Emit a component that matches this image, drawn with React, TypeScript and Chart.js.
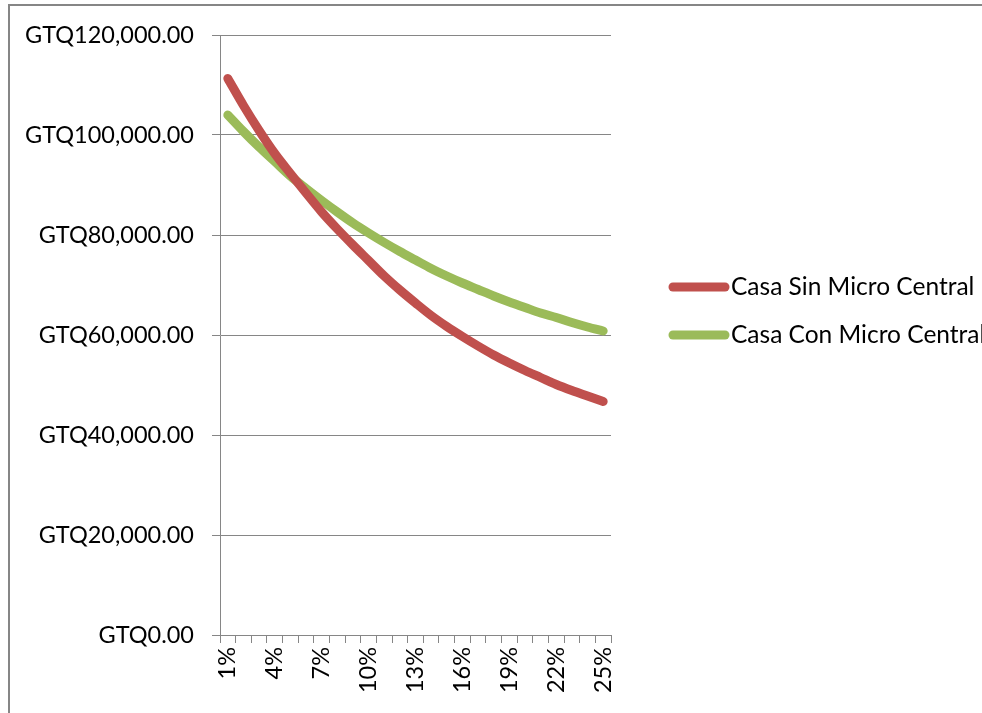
import React, { useEffect, useRef } from "react";
import { Chart, registerables } from "chart.js";

Chart.register(...registerables);

const categories = [
  "1%", "2%", "3%", "4%", "5%", "6%", "7%", "8%", "9%", "10%", "11%", "12%", "13%",
  "14%", "15%", "16%", "17%", "18%", "19%", "20%", "21%", "22%", "23%", "24%", "25%",
];

const seriesNames = ["Casa Sin Micro Central", "Casa Con Micro Central"];

const casaSinMicroCentral = [
  111300, 105900, 100900, 96300, 92300, 88400, 84600, 81200, 78000, 74900, 71800, 69000,
  66400, 63900, 61700, 59700, 57800, 56000, 54400, 52900, 51500, 50100, 48900, 47800, 46700,
];

const casaConMicroCentral = [
  104000, 100700, 97600, 94700, 91800, 89300, 86900, 84600, 82400, 80400, 78500, 76700,
  75000, 73300, 71800, 70400, 69100, 67800, 66600, 65500, 64400, 63500, 62500, 61600, 60800,
];

const yMin = 0;
const yMax = 120000;
const yStep = 20000;

const RED = "#C0504D";
const GREEN = "#9BBB59";
const GRID = "#868686";
const FONT_FAMILY = "Lato, 'Open Sans', sans-serif";
const FONT_SIZE = 23.5;
const LEGEND_FONT_SIZE = 24.5;

const legendPlugin = {
  id: "customLegend",
  afterDraw(chart: any) {
    const ctx = chart.ctx;
    const items = chart.data.datasets;
    const startX = 669;
    const lineLen = 60;
    const ys = [287, 335];
    ctx.save();
    items.forEach((ds: any, i: number) => {
      const y = ys[i];
      ctx.strokeStyle = ds.borderColor;
      ctx.lineWidth = ds.borderWidth;
      ctx.lineCap = "round";
      ctx.beginPath();
      ctx.moveTo(startX + 4, y);
      ctx.lineTo(startX + lineLen - 4, y);
      ctx.stroke();
      ctx.fillStyle = "#000";
      ctx.font = `${LEGEND_FONT_SIZE}px ${FONT_FAMILY}`;
      ctx.textBaseline = "middle";
      ctx.textAlign = "left";
      ctx.fillText(ds.label, startX + lineLen + 2, y);
    });
    ctx.restore();
  },
};

export default function App() {
  const canvasRef = useRef<HTMLCanvasElement | null>(null);

  useEffect(() => {
    if (!canvasRef.current) return;
    const chart = new Chart(canvasRef.current, {
      type: "line",
      data: {
        labels: categories,
        datasets: [
          {
            label: seriesNames[0],
            data: casaSinMicroCentral,
            borderColor: RED,
            backgroundColor: RED,
            borderWidth: 9,
            pointRadius: 0,
            cubicInterpolationMode: "monotone",
            borderCapStyle: "round",
            borderJoinStyle: "round",
            fill: false,
          },
          {
            label: seriesNames[1],
            data: casaConMicroCentral,
            borderColor: GREEN,
            backgroundColor: GREEN,
            borderWidth: 9,
            pointRadius: 0,
            cubicInterpolationMode: "monotone",
            borderCapStyle: "round",
            borderJoinStyle: "round",
            fill: false,
          },
        ],
      },
      options: {
        responsive: false,
        animation: false,
        layout: { padding: { top: 35, right: 371, bottom: 0, left: 0 } },
        plugins: {
          legend: { display: false },
          tooltip: { enabled: false },
        },
        scales: {
          x: {
            type: "category",
            offset: true,
            grid: {
              offset: true,
              drawOnChartArea: false,
              drawTicks: true,
              tickLength: 8,
              color: GRID,
              lineWidth: 1,
            },
            border: { display: true, color: GRID, width: 1 },
            ticks: {
              autoSkip: false,
              maxRotation: 90,
              minRotation: 90,
              padding: 4,
              color: "#000",
              font: { family: FONT_FAMILY, size: FONT_SIZE },
              callback: (_v: any, i: number) => (i % 3 === 0 ? categories[i] : ""),
            },
            afterFit: (s: any) => {
              s.height = 78;
            },
          },
          y: {
            min: yMin,
            max: yMax,
            grid: {
              color: GRID,
              lineWidth: 1,
              drawTicks: true,
              tickLength: 8,
            },
            border: { display: true, color: GRID, width: 1 },
            ticks: {
              stepSize: yStep,
              padding: 18,
              color: "#000",
              font: { family: FONT_FAMILY, size: FONT_SIZE },
              callback: (v: any) =>
                "GTQ" +
                Number(v).toLocaleString("en-US", {
                  minimumFractionDigits: 2,
                  maximumFractionDigits: 2,
                }),
            },
            afterFit: (s: any) => {
              s.width = 220;
            },
          },
        },
      },
      plugins: [legendPlugin],
    });
    return () => chart.destroy();
  }, []);

  return (
    <div>
      <div
        style={{
          position: "fixed",
          left: 8,
          top: 4,
          right: 0,
          bottom: 0,
          borderLeft: `2px solid ${GRID}`,
          borderTop: `2px solid ${GRID}`,
          boxSizing: "border-box",
        }}
      />
      <canvas
        ref={canvasRef}
        width={982}
        height={713}
        style={{ position: "fixed", left: 0, top: 0, width: 982, height: 713 }}
      />
    </div>
  );
}
